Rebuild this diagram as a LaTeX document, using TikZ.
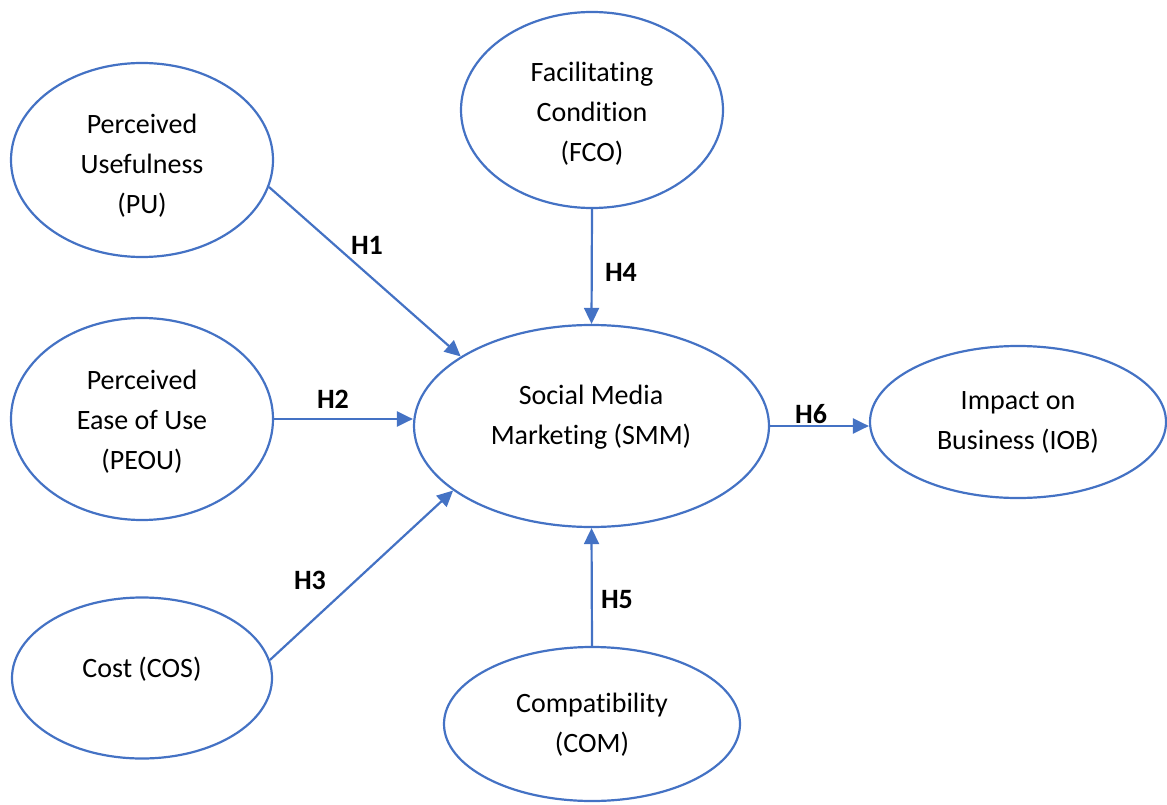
\documentclass[tikz,border=0pt]{standalone}
\usepackage{fontspec}
\setmainfont{Carlito}[Ligatures=NoCommon]
\usetikzlibrary{arrows.meta,shapes.geometric}
\definecolor{linkblue}{HTML}{4472C4}
\begin{document}
\begin{tikzpicture}[x=1pt,y=-1pt,
  construct/.style={draw=linkblue, line width=2.2pt, ellipse, inner sep=0pt},
  caption/.style={align=center, font=\fontsize{28}{40}\selectfont, inner sep=0pt},
  hyp/.style={font=\fontsize{28}{34}\selectfont\bfseries, inner sep=0pt},
  link/.style={draw=linkblue, line width=2.2pt, -{Triangle[length=16pt,width=15pt]}}]
\useasboundingbox (0,0) rectangle (1167,805);

% constructs
\node[construct, minimum width=262pt, minimum height=194pt] (pu) at (142,160) {};
\node[caption] (pu-t) at (142,166) {Perceived\\Usefulness\\(PU)};

\node[construct, minimum width=262pt, minimum height=196pt] (fco) at (592,110) {};
\node[caption] (fco-t) at (592,114) {Facilitating\\Condition\\(FCO)};

\node[construct, minimum width=262pt, minimum height=202pt] (peou) at (142,419) {};
\node[caption] (peou-t) at (142,422) {Perceived\\Ease of Use\\(PEOU)};

\node[construct, minimum width=355pt, minimum height=202pt] (smm) at (591.5,426) {};
\node[caption] (smm-t) at (591,417) {Social Media\\Marketing (SMM)};

\node[construct, minimum width=296pt, minimum height=152pt] (iob) at (1018,422) {};
\node[caption] (iob-t) at (1018,422) {Impact on\\Business (IOB)};

\node[construct, minimum width=260pt, minimum height=161pt] (cos) at (142,678) {};
\node[caption] (cos-t) at (142,669) {Cost (COS)};

\node[construct, minimum width=296pt, minimum height=154pt] (com) at (592,724) {};
\node[caption] (com-t) at (592,725) {Compatibility\\(COM)};

% hypothesised paths
\draw[link] (pu.-12) -- (smm.152);
\draw[link] (peou.east) -- (peou.east -| smm.west);
\draw[link] (cos.8) -- (smm.-155);
\draw[link] (fco.south) -- (smm.north);
\draw[link] (com.north) -- (smm.south);
\draw[link] (smm.east) -- (smm.east -| iob.west);

% path labels
\node[hyp] (h1) at (367,245) {H1};
\node[hyp] (h2) at (333,399) {H2};
\node[hyp] (h3) at (310,580) {H3};
\node[hyp] (h4) at (621,272) {H4};
\node[hyp] (h5) at (617,600) {H5};
\node[hyp] (h6) at (811,414) {H6};
\end{tikzpicture}
\end{document}
